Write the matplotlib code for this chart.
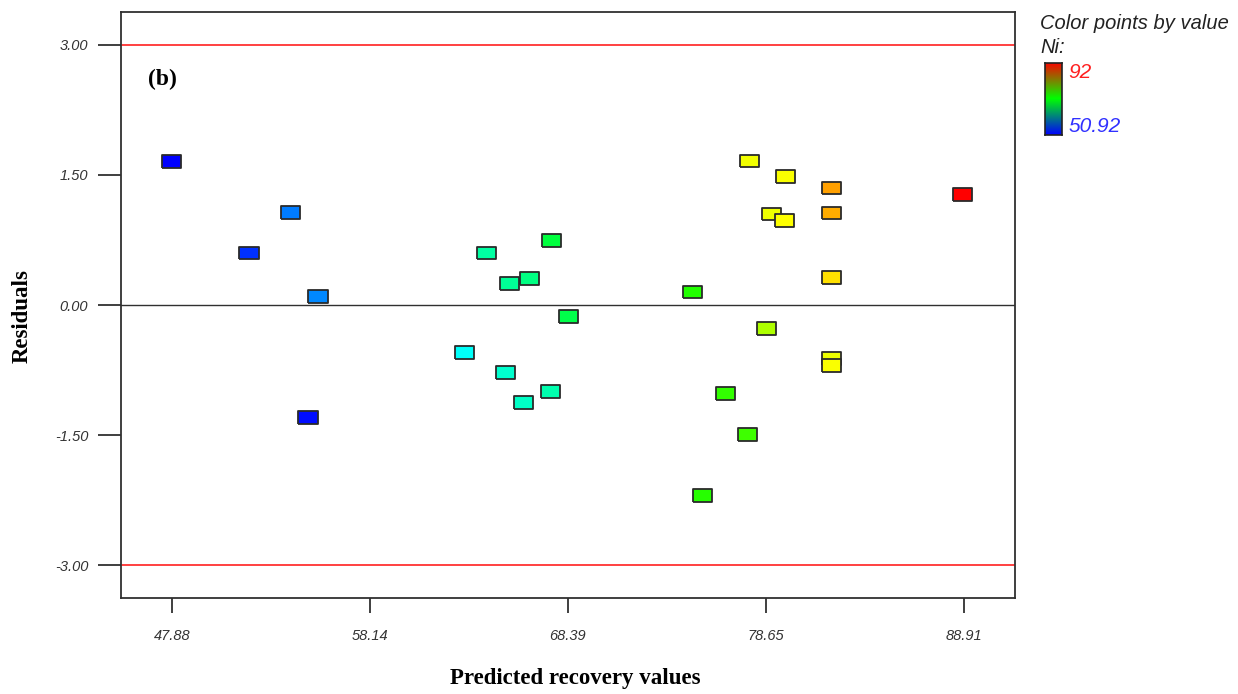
import numpy as np
import matplotlib.pyplot as plt
from matplotlib.colors import LinearSegmentedColormap

# predicted recovery, residuals and measured Ni for each run
predicted = [47.88, 51.87, 54.00, 55.45, 54.93, 63.02, 64.16, 65.35, 66.39, 67.53,
             68.41, 65.14, 66.08, 67.48, 74.84, 75.36, 76.55, 77.69, 78.68, 77.80,
             79.64, 78.92, 79.59, 82.03, 82.03, 82.03, 82.03, 82.03, 88.83]
residuals = [1.65, 0.60, 1.07, 0.10, -1.30, -0.55, 0.60, 0.25, 0.31, 0.74,
             -0.13, -0.78, -1.12, -1.00, 0.15, -2.20, -1.02, -1.49, -0.27, 1.66,
             1.48, 1.05, 0.97, 1.35, 1.06, 0.32, -0.62, -0.70, 1.27]
ni = [50.92, 53.0, 56.0, 56.5, 51.5, 61.5, 64.9, 65.5, 66.3, 69.0,
      68.5, 63.2, 63.5, 64.5, 72.8, 73.0, 73.5, 74.0, 78.5, 81.2,
      81.5, 81.0, 81.6, 85.5, 85.0, 83.0, 81.0, 81.5, 92.0]

xticks = [47.88, 58.14, 68.39, 78.65, 88.91]
yticks = [-3.00, -1.50, 0.00, 1.50, 3.00]
ni_min, ni_max = 50.92, 92
limit = 3.00

pts_cmap = LinearSegmentedColormap.from_list(
    'pts', ['#0000ff', '#00ffff', '#00ff00', '#ffff00', '#ff0000'])
bar_cmap = LinearSegmentedColormap.from_list('bar', ['#0000ff', '#00ff00', '#ff0000'])

fig = plt.figure(figsize=(12.38, 6.94), dpi=100)
ax = fig.add_axes([0.0977, 0.138, 0.7222, 0.845])

ax.axhline(limit, color='#ff2020', lw=1.2, zorder=1)
ax.axhline(-limit, color='#ff2020', lw=1.2, zorder=1)
ax.axhline(0, color='#303030', lw=1.0, zorder=1)

rect = [(-1.5, -1), (1.5, -1), (1.5, 1), (-1.5, 1), (-1.5, -1)]
ax.scatter(predicted, residuals, c=ni, cmap=pts_cmap, vmin=ni_min, vmax=ni_max,
           marker=rect, s=190, edgecolors='#2a2a2a', linewidths=1.3, zorder=3)

ax.set_xlim(45.24, 91.55)
ax.set_ylim(-3.38, 3.38)
ax.set_xticks(xticks)
ax.set_xticklabels([f'{v:.2f}' for v in xticks])
ax.set_yticks(yticks)
ax.set_yticklabels([f'{v:.2f}' for v in yticks])
for s in ax.spines.values():
    s.set_color('#303030')
    s.set_linewidth(1.3)
ax.tick_params(axis='y', direction='out', length=16.5, width=1.3, color='#303030', pad=7)
ax.tick_params(axis='x', direction='out', length=11, width=1.3, color='#303030', pad=11)
for lab in ax.get_xticklabels() + ax.get_yticklabels():
    lab.set_family('Liberation Sans')
    lab.set_style('italic')
    lab.set_fontsize(10.5)
    lab.set_color('#333333')

ax.text(0.030, 0.885, '(b)', transform=ax.transAxes, family='Liberation Serif',
        fontweight='bold', fontsize=17, va='center', ha='left')

fig.text(0.018, 0.545, 'Residuals', rotation=90, family='Liberation Serif',
         fontweight='bold', fontsize=16.5, ha='center', va='center')
fig.text(0.4645, 0.022, 'Predicted recovery values', family='Liberation Serif',
         fontweight='bold', fontsize=16.5, ha='center', va='center')

# colour key on the right
fig.text(0.840, 0.966, 'Color points by value', family='Liberation Sans',
         style='italic', fontsize=14.5, color='#222222', va='center', ha='left')
fig.text(0.840, 0.932, 'Ni:', family='Liberation Sans',
         style='italic', fontsize=14.5, color='#222222', va='center', ha='left')
cax = fig.add_axes([0.8445, 0.805, 0.0130, 0.104])
grad = np.linspace(1, 0, 256).reshape(-1, 1)
cax.imshow(grad, aspect='auto', cmap=bar_cmap, extent=[0, 1, 0, 1])
cax.set_xticks([])
cax.set_yticks([])
for s in cax.spines.values():
    s.set_color('#222222')
    s.set_linewidth(1.2)
fig.text(0.863, 0.895, f'{ni_max:g}', family='Liberation Sans', style='italic',
         fontsize=15, color='#ff2020', va='center', ha='left')
fig.text(0.863, 0.818, f'{ni_min:.2f}', family='Liberation Sans', style='italic',
         fontsize=15, color='#3030ff', va='center', ha='left')

fig.savefig('out.png', dpi=100)
